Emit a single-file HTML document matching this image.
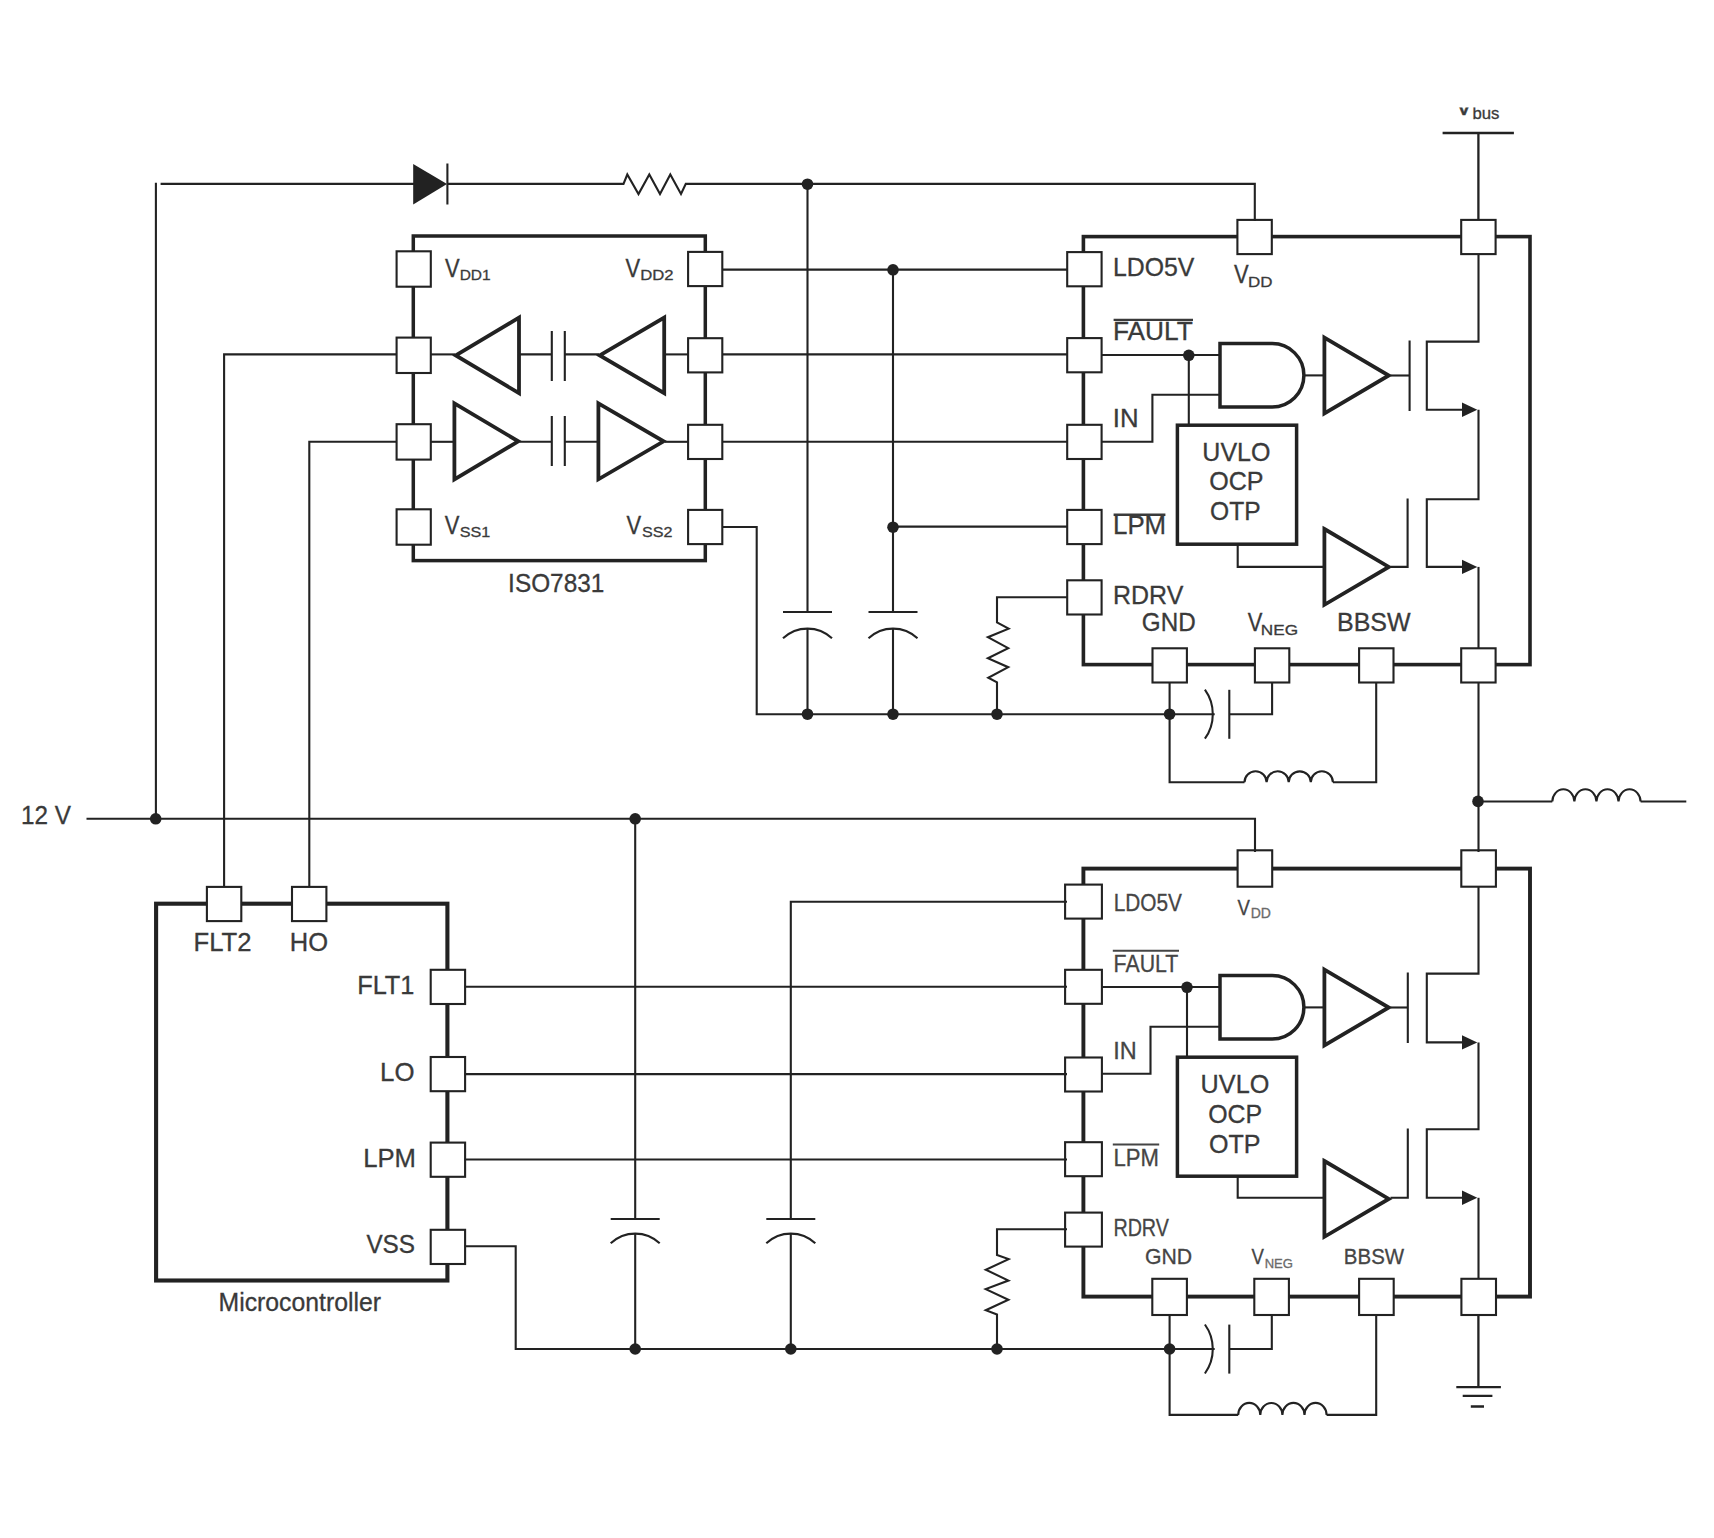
<!DOCTYPE html>
<html lang="en">
<head>
<meta charset="utf-8">
<title>Half-bridge gate driver schematic</title>
<style>
html,body{margin:0;padding:0;background:#fff;}
svg{display:block;}
text{font-family:"Liberation Sans",Arial,Helvetica,sans-serif;}
</style>
</head>
<body>
<svg width="1714" height="1538" viewBox="0 0 1714 1538">
<defs><clipPath id="vb"><rect x="1440" y="107.6" width="80" height="20"/></clipPath></defs>
<rect x="0" y="0" width="1714" height="1538" fill="#fff"/>
<g fill="none" stroke="#222222" stroke-width="2" stroke-linecap="butt" stroke-linejoin="miter">
<rect x="1083.4" y="236.6" width="446.5999999999999" height="428.0" stroke-width="3.6"/>
<path d="M1100,355 H1220" stroke-width="2.1" />
<path d="M1188.8,355 V425" stroke-width="2.1" />
<circle cx="1188.8" cy="355.3" r="5.8" fill="#222222" stroke="none"/>
<path d="M1100,441.8 H1152.4 V394.8 H1220" stroke-width="2.1" />
<path d="M1220,343.6 H1272.2 A31.7,31.7 0 0 1 1272.2,407 H1220 Z" stroke-width="3.5" fill="#fff"/>
<path d="M1304,375.4 H1323.5" stroke-width="2.1" />
<path d="M1324.4,337.6 L1388.8,375.5 L1324.4,413.4 Z" stroke-width="3.8" stroke-linejoin="miter"/>
<path d="M1390.5,375.5 H1409.6" stroke-width="2.1" />
<path d="M1409.6,340.5 V411" stroke-width="2.1" />
<path d="M1478.5,254 V341.6 H1426.8 V409.8 H1465" stroke-width="2.1" />
<path d="M1462,402.6 L1477.3,409.8 L1462,417.0 Z" fill="#222222" stroke="none"/>
<path d="M1478.5,409.8 V499.2 H1426.8 V566.9 H1465" stroke-width="2.1" />
<path d="M1462,559.6999999999999 L1477.3,566.9 L1462,574.1 Z" fill="#222222" stroke="none"/>
<path d="M1478.5,566.9 V650" stroke-width="2.1" />
<path d="M1390.5,566.9 H1407.6 V498.59999999999997" stroke-width="2.1" />
<path d="M1324.4,529 L1388.8,566.9 L1324.4,604.8 Z" stroke-width="3.8" stroke-linejoin="miter"/>
<path d="M1237.7,544 V566.9 H1323.5" stroke-width="2.1" />
<rect x="1177.4" y="425.2" width="119.2" height="119" stroke-width="3.5" fill="#fff"/>
<rect x="1067.20" y="252.10" width="34.4" height="34.2" fill="#fff" stroke-width="2.1"/>
<rect x="1067.20" y="338.10" width="34.4" height="34.2" fill="#fff" stroke-width="2.1"/>
<rect x="1067.20" y="424.80" width="34.4" height="34.2" fill="#fff" stroke-width="2.1"/>
<rect x="1067.20" y="509.90" width="34.4" height="34.2" fill="#fff" stroke-width="2.1"/>
<rect x="1067.20" y="580.30" width="34.4" height="34.2" fill="#fff" stroke-width="2.1"/>
<rect x="1237.40" y="219.90" width="34.4" height="34.2" fill="#fff" stroke-width="2.1"/>
<rect x="1461.20" y="219.90" width="34.4" height="34.2" fill="#fff" stroke-width="2.1"/>
<rect x="1152.50" y="648.30" width="34.4" height="34.2" fill="#fff" stroke-width="2.1"/>
<rect x="1254.90" y="648.30" width="34.4" height="34.2" fill="#fff" stroke-width="2.1"/>
<rect x="1359.10" y="648.30" width="34.4" height="34.2" fill="#fff" stroke-width="2.1"/>
<rect x="1461.20" y="648.30" width="34.4" height="34.2" fill="#fff" stroke-width="2.1"/>
<path d="M1067,597.3 H997 V621" stroke-width="2.1" />
<path d="M997,621 V622.4 L1008.6,628.7 L987.9,637.2 L1008.2,648.2 L987.9,658.3 L1008.2,667.2 L988.3,677.8 L997,682.4 V714.2" stroke-width="2.1" />
<circle cx="997" cy="714.2" r="5.8" fill="#222222" stroke="none"/>
<circle cx="1169.6" cy="714.2" r="5.8" fill="#222222" stroke="none"/>
<path d="M1169.6,682 V782.3 H1244.5" stroke-width="2.1" />
<path d="M1244.5,782.3 a11.05,11 0 0 1 22.10,0 a11.05,11 0 0 1 22.10,0 a11.05,11 0 0 1 22.10,0 a11.05,11 0 0 1 22.10,0" stroke-width="2.1" />
<path d="M1332.9,782.3 H1376.2 V682" stroke-width="2.1" />
<path d="M1169.6,714.2 H1214.7" stroke-width="2.1" />
<path d="M1204.9,689.7 A42,42 0 0 1 1204.9,738.7" stroke-width="2.1" />
<path d="M1229.3,689.8000000000001 V738.8000000000001" stroke-width="2.1" />
<path d="M1229.3,714.2 H1272.1 V682" stroke-width="2.1" />
<rect x="1083.4" y="868.6" width="446.5999999999999" height="427.9999999999999" stroke-width="3.9"/>
<path d="M1100,987 H1220" stroke-width="2.1" />
<path d="M1187,987 V1057" stroke-width="2.1" />
<circle cx="1187" cy="987.3" r="5.8" fill="#222222" stroke="none"/>
<path d="M1100,1073.8 H1150.5 V1026.8 H1220" stroke-width="2.1" />
<path d="M1220,975.6 H1272.2 A31.7,31.7 0 0 1 1272.2,1039 H1220 Z" stroke-width="3.5" fill="#fff"/>
<path d="M1304,1007.4 H1323.5" stroke-width="2.1" />
<path d="M1324.4,969.6 L1388.8,1007.5 L1324.4,1045.4 Z" stroke-width="3.8" stroke-linejoin="miter"/>
<path d="M1390.5,1007.5 H1407.8" stroke-width="2.1" />
<path d="M1407.8,972.5 V1043" stroke-width="2.1" />
<path d="M1478.5,886 V973.6 H1426.8 V1042.4 H1465" stroke-width="2.1" />
<path d="M1462,1035.2 L1477.3,1042.4 L1462,1049.6000000000001 Z" fill="#222222" stroke="none"/>
<path d="M1478.5,1042.4 V1129.2 H1426.8 V1197.8 H1465" stroke-width="2.1" />
<path d="M1462,1190.6 L1477.3,1197.8 L1462,1205.0 Z" fill="#222222" stroke="none"/>
<path d="M1478.5,1197.8 V1282" stroke-width="2.1" />
<path d="M1390.5,1197.8 H1407.8 V1128.6000000000001" stroke-width="2.1" />
<path d="M1324.4,1161 L1388.8,1198.9 L1324.4,1236.8 Z" stroke-width="3.8" stroke-linejoin="miter"/>
<path d="M1237.7,1176 V1197.8 H1323.5" stroke-width="2.1" />
<rect x="1177.4" y="1057.2" width="119.2" height="119" stroke-width="3.5" fill="#fff"/>
<rect x="1065.10" y="884.60" width="36.8" height="34" fill="#fff" stroke-width="2.1"/>
<rect x="1065.10" y="969.80" width="36.8" height="34" fill="#fff" stroke-width="2.1"/>
<rect x="1065.10" y="1057.50" width="36.8" height="34" fill="#fff" stroke-width="2.1"/>
<rect x="1065.10" y="1142.20" width="36.8" height="34" fill="#fff" stroke-width="2.1"/>
<rect x="1065.10" y="1212.60" width="36.8" height="34" fill="#fff" stroke-width="2.1"/>
<rect x="1237.60" y="850.30" width="34.6" height="36.4" fill="#fff" stroke-width="2.1"/>
<rect x="1461.30" y="850.30" width="34.6" height="36.4" fill="#fff" stroke-width="2.1"/>
<rect x="1152.30" y="1278.80" width="34.6" height="36.2" fill="#fff" stroke-width="2.1"/>
<rect x="1254.30" y="1278.80" width="34.6" height="36.2" fill="#fff" stroke-width="2.1"/>
<rect x="1359.10" y="1278.80" width="34.6" height="36.2" fill="#fff" stroke-width="2.1"/>
<rect x="1461.40" y="1278.80" width="34.6" height="36.2" fill="#fff" stroke-width="2.1"/>
<path d="M1067,1229.3 H997 V1253" stroke-width="2.1" />
<path d="M997,1253 V1254.9 L1008.6,1259.1 L985.8,1269.7 L1008.4,1280.6 L985.8,1289.1 L1008.4,1299.7 L985.8,1310.2 L997,1314.5 V1349.0" stroke-width="2.1" />
<circle cx="997" cy="1349.0" r="5.8" fill="#222222" stroke="none"/>
<circle cx="1169.6" cy="1349.0" r="5.8" fill="#222222" stroke="none"/>
<path d="M1169.6,1314 V1414.9 H1238.2" stroke-width="2.1" />
<path d="M1238.2,1414.9 a11.05,12 0 0 1 22.10,0 a11.05,12 0 0 1 22.10,0 a11.05,12 0 0 1 22.10,0 a11.05,12 0 0 1 22.10,0" stroke-width="2.1" />
<path d="M1326.6,1414.9 H1376.2 V1314" stroke-width="2.1" />
<path d="M1169.6,1349.0 H1214.7" stroke-width="2.1" />
<path d="M1204.9,1324.5 A42,42 0 0 1 1204.9,1373.5" stroke-width="2.1" />
<path d="M1229.3,1324.6 V1373.6" stroke-width="2.1" />
<path d="M1229.3,1349.0 H1271.8 V1314" stroke-width="2.1" />
<path d="M155.9,818.8 V182.8 M160.6,183.9 H414" stroke-width="2.1" />
<path d="M413.2,164 L447,184 L413.2,204.5 Z" fill="#222222" stroke="none"/>
<path d="M447.4,163.5 V204.5" stroke-width="2.1" />
<path d="M447,183.9 H623.5 L627.3,174.5 L638.5,194 L649.3,174.5 L660,194 L670.3,174.5 L681,194 L685.8,183.9 H1254.8 V221" stroke-width="2.1" stroke-linejoin="miter"/>
<circle cx="807.5" cy="184.2" r="5.8" fill="#222222" stroke="none"/>
<path d="M807.5,184 V612" stroke-width="2.1" />
<path d="M783.0,612 H832.0" stroke-width="2.1" />
<path d="M783.0,638.3 A35.8,35.8 0 0 1 832.0,638.3" stroke-width="2.1" />
<path d="M807.5,628.6 V714.2" stroke-width="2.1" />
<rect x="413.3" y="236" width="292" height="324.6" stroke-width="3.5"/>
<path d="M430,354.4 H455" stroke-width="2.1" />
<path d="M455.8,355.4 L519,317.59999999999997 L519,393.2 Z" stroke-width="3.8" stroke-linejoin="miter"/>
<path d="M519,354.4 H551.8 M564.8,354.4 H599" stroke-width="2.1" />
<path d="M551.8,331 V381 M564.8,331 V381" stroke-width="2.1" />
<path d="M599.8,355.4 L664.2,317.59999999999997 L664.2,393.2 Z" stroke-width="3.8" stroke-linejoin="miter"/>
<path d="M663,354.4 H690" stroke-width="2.1" />
<path d="M430,441.8 H454" stroke-width="2.1" />
<path d="M454.4,403.3 L518.3,441.3 L454.4,479.3 Z" stroke-width="3.8" stroke-linejoin="miter"/>
<path d="M519.5,441.8 H551.8 M564.8,441.8 H598" stroke-width="2.1" />
<path d="M551.8,416 V466 M564.8,416 V466" stroke-width="2.1" />
<path d="M598.4,403.3 L663.6,441.3 L598.4,479.3 Z" stroke-width="3.8" stroke-linejoin="miter"/>
<path d="M665,441.8 H690" stroke-width="2.1" />
<rect x="396.60" y="251.30" width="34.2" height="35.4" fill="#fff" stroke-width="2.1"/>
<rect x="688.10" y="251.90" width="34.2" height="34.2" fill="#fff" stroke-width="2.1"/>
<rect x="396.60" y="337.60" width="34.2" height="35.4" fill="#fff" stroke-width="2.1"/>
<rect x="688.10" y="338.20" width="34.2" height="34.2" fill="#fff" stroke-width="2.1"/>
<rect x="396.60" y="424.20" width="34.2" height="35.4" fill="#fff" stroke-width="2.1"/>
<rect x="688.10" y="424.80" width="34.2" height="34.2" fill="#fff" stroke-width="2.1"/>
<rect x="396.60" y="509.30" width="34.2" height="35.4" fill="#fff" stroke-width="2.1"/>
<rect x="688.10" y="509.90" width="34.2" height="34.2" fill="#fff" stroke-width="2.1"/>
<path d="M722.5,269.6 H1067" stroke-width="2.1" />
<path d="M722.5,354.4 H1067" stroke-width="2.1" />
<path d="M722.5,441.8 H1067" stroke-width="2.1" />
<circle cx="893" cy="269.8" r="5.8" fill="#222222" stroke="none"/>
<path d="M893,269.8 V612" stroke-width="2.1" />
<path d="M868.5,612 H917.5" stroke-width="2.1" />
<path d="M868.5,638.3 A35.8,35.8 0 0 1 917.5,638.3" stroke-width="2.1" />
<path d="M893,628.6 V714.2" stroke-width="2.1" />
<circle cx="893" cy="527.2" r="5.8" fill="#222222" stroke="none"/>
<path d="M893,526.6 H1067" stroke-width="2.1" />
<path d="M722.5,527 H756.7 V714.2 H1170" stroke-width="2.1" />
<circle cx="807.5" cy="714.2" r="5.8" fill="#222222" stroke="none"/>
<circle cx="893" cy="714.2" r="5.8" fill="#222222" stroke="none"/>
<path d="M397,354.4 H224.1 V888" stroke-width="2.1" />
<path d="M397,441.8 H309.3 V888" stroke-width="2.1" />
<path d="M86.5,818.8 H1255 V852" stroke-width="2.1" />
<circle cx="155.7" cy="818.8" r="5.8" fill="#222222" stroke="none"/>
<circle cx="635.2" cy="818.8" r="5.8" fill="#222222" stroke="none"/>
<path d="M635.2,818.8 V1219" stroke-width="2.1" />
<path d="M610.7,1219 H659.7" stroke-width="2.1" />
<path d="M610.7,1243.3 A35.8,35.8 0 0 1 659.7,1243.3" stroke-width="2.1" />
<path d="M635.2,1233.6 V1349" stroke-width="2.1" />
<path d="M1067,901.7 H790.8 V1219" stroke-width="2.1" />
<path d="M766.3,1219 H815.3" stroke-width="2.1" />
<path d="M766.3,1243.3 A35.8,35.8 0 0 1 815.3,1243.3" stroke-width="2.1" />
<path d="M790.8,1233.6 V1349" stroke-width="2.1" />
<circle cx="635.2" cy="1349" r="5.8" fill="#222222" stroke="none"/>
<circle cx="790.8" cy="1349" r="5.8" fill="#222222" stroke="none"/>
<rect x="156.1" y="903.7" width="291.3" height="376.8" stroke-width="4.1"/>
<rect x="206.90" y="886.90" width="34.4" height="34.2" fill="#fff" stroke-width="2.1"/>
<rect x="292.00" y="886.90" width="34.4" height="34.2" fill="#fff" stroke-width="2.1"/>
<rect x="430.70" y="969.80" width="34.4" height="34.2" fill="#fff" stroke-width="2.1"/>
<rect x="430.70" y="1057.00" width="34.4" height="34.2" fill="#fff" stroke-width="2.1"/>
<rect x="430.70" y="1142.60" width="34.4" height="34.2" fill="#fff" stroke-width="2.1"/>
<rect x="430.70" y="1229.80" width="34.4" height="34.2" fill="#fff" stroke-width="2.1"/>
<path d="M464.5,986.7 H1067" stroke-width="2.1" />
<path d="M464.5,1074.1 H1067" stroke-width="2.1" />
<path d="M464.5,1159.5 H1067" stroke-width="2.1" />
<path d="M464.5,1246.2 H515.7 V1349 H1170" stroke-width="2.1" />
<path d="M1478.4,219 V133 M1442.6,133 H1513.9" stroke-width="2.3" />
<path d="M1478.5,682 V852" stroke-width="2.1" />
<circle cx="1478" cy="801.4" r="5.8" fill="#222222" stroke="none"/>
<path d="M1478.5,801.5 H1552.3" stroke-width="2.1" />
<path d="M1552.3,801.5 a11.04,12.6 0 0 1 22.07,0 a11.04,12.6 0 0 1 22.07,0 a11.04,12.6 0 0 1 22.07,0 a11.04,12.6 0 0 1 22.07,0" stroke-width="2.1" />
<path d="M1640.6,801.5 H1686.3" stroke-width="2.1" />
<path d="M1478.4,1314 V1387.2 M1456.3,1387.2 H1500.9 M1462.7,1395.8 H1492.4 M1470.8,1406.5 H1484" stroke-width="2.3" />
<g fill="#3a3a3a" stroke="#3a3a3a" stroke-width="0.3">
<text x="20.88" y="823.7" font-size="25" textLength="50.00" lengthAdjust="spacingAndGlyphs">12 V</text>
<text x="193.55" y="951" font-size="25" textLength="57.93" lengthAdjust="spacingAndGlyphs">FLT2</text>
<text x="289.76" y="951" font-size="25" textLength="38.32" lengthAdjust="spacingAndGlyphs">HO</text>
<text x="357.18" y="993.6" font-size="25" textLength="57.19" lengthAdjust="spacingAndGlyphs">FLT1</text>
<text x="380.14" y="1081.4" font-size="25" textLength="34.43" lengthAdjust="spacingAndGlyphs">LO</text>
<text x="363.25" y="1167" font-size="25" textLength="52.74" lengthAdjust="spacingAndGlyphs">LPM</text>
<text x="366.38" y="1253" font-size="25" textLength="48.64" lengthAdjust="spacingAndGlyphs">VSS</text>
<text x="218.52" y="1310.7" font-size="25" textLength="162.51" lengthAdjust="spacingAndGlyphs">Microcontroller</text>
<text x="508.11" y="591.6" font-size="25" textLength="96.17" lengthAdjust="spacingAndGlyphs">ISO7831</text>
<text x="1112.91" y="276.2" font-size="25" textLength="81.42" lengthAdjust="spacingAndGlyphs">LDO5V</text>
<text x="1113.00" y="340" font-size="25" textLength="79.70" lengthAdjust="spacingAndGlyphs">FAULT</text>
<text x="1112.78" y="426.6" font-size="25" textLength="25.78" lengthAdjust="spacingAndGlyphs">IN</text>
<text x="1113.04" y="533.6" font-size="25" textLength="53.06" lengthAdjust="spacingAndGlyphs">LPM</text>
<text x="1113.10" y="603.5" font-size="25" textLength="70.23" lengthAdjust="spacingAndGlyphs">RDRV</text>
<text x="1141.79" y="631" font-size="25" textLength="53.86" lengthAdjust="spacingAndGlyphs">GND</text>
<text x="1337.00" y="631" font-size="25" textLength="73.62" lengthAdjust="spacingAndGlyphs">BBSW</text>
<text x="1202.32" y="461.2" font-size="25" textLength="68.18" lengthAdjust="spacingAndGlyphs">UVLO</text>
<text x="1209.27" y="490.4" font-size="25" textLength="54.33" lengthAdjust="spacingAndGlyphs">OCP</text>
<text x="1210.09" y="520.3" font-size="25" textLength="50.55" lengthAdjust="spacingAndGlyphs">OTP</text>
<text x="1200.61" y="1093.4" font-size="25" textLength="68.71" lengthAdjust="spacingAndGlyphs">UVLO</text>
<text x="1208.18" y="1122.5" font-size="25" textLength="53.91" lengthAdjust="spacingAndGlyphs">OCP</text>
<text x="1208.97" y="1152.6" font-size="25" textLength="51.60" lengthAdjust="spacingAndGlyphs">OTP</text>
<text x="445.09" y="276.6" font-size="25" textLength="14.66" lengthAdjust="spacingAndGlyphs">V</text>
<text x="459.66" y="279.8" font-size="15" textLength="31.02" lengthAdjust="spacingAndGlyphs">DD1</text>
<text x="625.59" y="276.6" font-size="25" textLength="14.66" lengthAdjust="spacingAndGlyphs">V</text>
<text x="640.17" y="279.8" font-size="15" textLength="33.38" lengthAdjust="spacingAndGlyphs">DD2</text>
<text x="444.79" y="533.7" font-size="25" textLength="14.66" lengthAdjust="spacingAndGlyphs">V</text>
<text x="459.67" y="537.2" font-size="15" textLength="30.54" lengthAdjust="spacingAndGlyphs">SS1</text>
<text x="626.39" y="533.7" font-size="25" textLength="14.66" lengthAdjust="spacingAndGlyphs">V</text>
<text x="641.98" y="537.2" font-size="15" textLength="30.43" lengthAdjust="spacingAndGlyphs">SS2</text>
<text x="1233.99" y="283" font-size="25" textLength="14.66" lengthAdjust="spacingAndGlyphs">V</text>
<text x="1248.14" y="286.6" font-size="15" textLength="24.49" lengthAdjust="spacingAndGlyphs">DD</text>
<text x="1247.79" y="631" font-size="25" textLength="14.66" lengthAdjust="spacingAndGlyphs">V</text>
<text x="1260.72" y="635.4" font-size="15" textLength="37.32" lengthAdjust="spacingAndGlyphs">NEG</text>
<text x="1113.63" y="911.3" font-size="23.4" textLength="68.26" lengthAdjust="spacingAndGlyphs" fill="#454545" stroke="#454545">LDO5V</text>
<text x="1113.60" y="972.4" font-size="23.4" textLength="64.69" lengthAdjust="spacingAndGlyphs" fill="#454545" stroke="#454545">FAULT</text>
<text x="1113.19" y="1059.2" font-size="23.4" textLength="23.49" lengthAdjust="spacingAndGlyphs" fill="#454545" stroke="#454545">IN</text>
<text x="1113.53" y="1166.3" font-size="23.4" textLength="45.47" lengthAdjust="spacingAndGlyphs" fill="#454545" stroke="#454545">LPM</text>
<text x="1113.42" y="1236.2" font-size="23.4" textLength="55.49" lengthAdjust="spacingAndGlyphs" fill="#454545" stroke="#454545">RDRV</text>
<text x="1144.94" y="1264" font-size="21.6" textLength="47.27" lengthAdjust="spacingAndGlyphs" fill="#454545" stroke="#454545">GND</text>
<text x="1343.86" y="1264" font-size="21.6" textLength="60.24" lengthAdjust="spacingAndGlyphs" fill="#454545" stroke="#454545">BBSW</text>
<text x="1237.51" y="914.6" font-size="22.4" textLength="12.42" lengthAdjust="spacingAndGlyphs" fill="#454545" stroke="#454545">V</text>
<text x="1250.78" y="917.8" font-size="14" textLength="20.21" lengthAdjust="spacingAndGlyphs" fill="#6a6a6a" stroke="#6a6a6a">DD</text>
<text x="1251.61" y="1264" font-size="22.4" textLength="12.42" lengthAdjust="spacingAndGlyphs" fill="#454545" stroke="#454545">V</text>
<text x="1264.66" y="1267.6" font-size="13" textLength="28.28" lengthAdjust="spacingAndGlyphs" fill="#6a6a6a" stroke="#6a6a6a">NEG</text>
<g clip-path="url(#vb)">
<text x="1455.2" y="115.3" font-size="26" stroke="#3a3a3a" stroke-width="0.5">V</text>
<text x="1472.4" y="119.3" font-size="15.6" textLength="27" lengthAdjust="spacingAndGlyphs" stroke="#3a3a3a" stroke-width="0.3">bus</text>
</g>
</g>
<path d="M1113.6,319.9 H1193 M1113.6,514.8 H1165.4" stroke-width="2.4" stroke="#3a3a3a"/>
<path d="M1112.8,950.7 H1179 M1112.8,1144.4 H1159.2" stroke-width="2" stroke="#454545"/>
</g>
</svg>
</body>
</html>
